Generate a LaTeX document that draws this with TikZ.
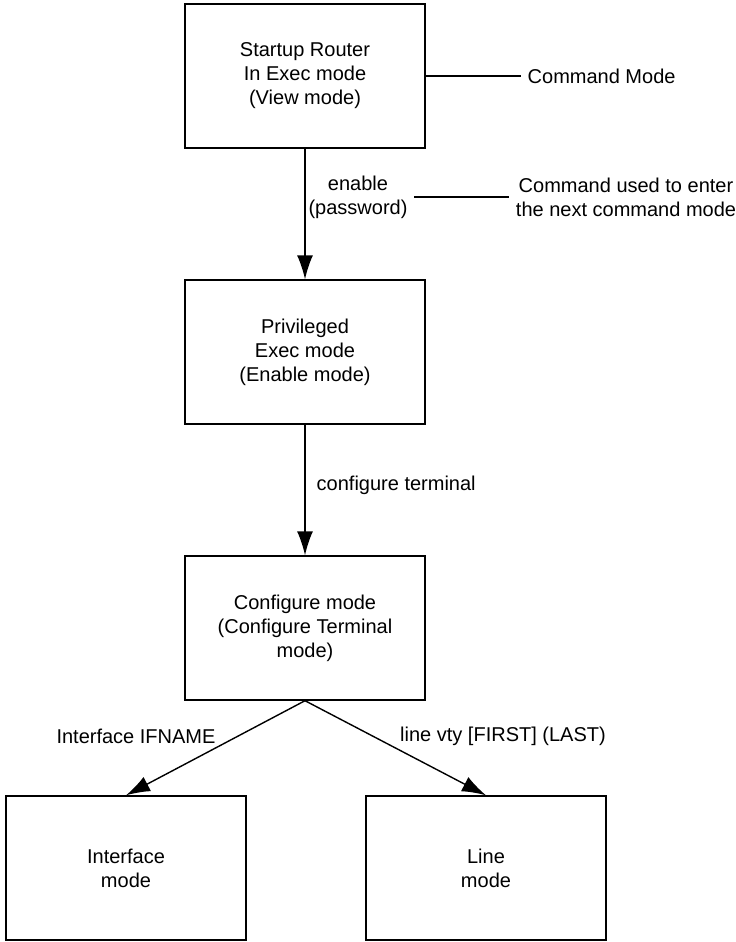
\documentclass[tikz,border=0pt]{standalone}
\usepackage{fontspec}
\setmainfont{Liberation Sans}
\usetikzlibrary{arrows.meta}

\begin{document}
\begin{tikzpicture}[x=0.5pt, y=-0.5pt, line width=0.7pt,
		mode/.style={draw, shape=rectangle, minimum width=120pt, minimum height=72pt, align=center},
		txt/.style={align=center, inner sep=3pt},
		>={Latex[length=12pt, width=8pt]},
		font=\fontsize{10}{12}\selectfont]
	\useasboundingbox (0, 0) rectangle (735, 942);
	% Modes:
	\node[mode](N1) at (305, 76){Startup Router\\In Exec mode\\(View mode)};
	\node[mode](N2) at (305, 352){Privileged\\Exec mode\\(Enable mode)};
	\node[mode](N3) at (305, 628){Configure mode\\(Configure Terminal\\mode)};
	\node[mode](N4) at (126, 868){Interface\\mode};
	\node[mode](N5) at (486, 868){Line\\mode};
	% Commands and notes:
	\node[txt, anchor=west](L1) at (521, 76){Command Mode};
	\node[txt](L2) at (358, 197){enable\\(password)};
	\node[txt](L3) at (626, 197){Command used to enter\\the next command mode};
	\node[txt, anchor=west](L4) at (310, 485){configure terminal};
	\node[txt](L5) at (136, 736){Interface IFNAME};
	\node[txt](L6) at (503, 736){line vty [FIRST] (LAST)};
	% Arrows and lines:
	\draw (N1.east) -- (L1.west);
	\draw (L2.east) -- (L3.west);
	\draw[->] (N1.south) -- (N2.north);
	\draw[->] (N2.south) -- (N3.north);
	\draw[->] (N3.south) -- (N4.north);
	\draw[->] (N3.south) -- (N5.north);
\end{tikzpicture}
\end{document}
